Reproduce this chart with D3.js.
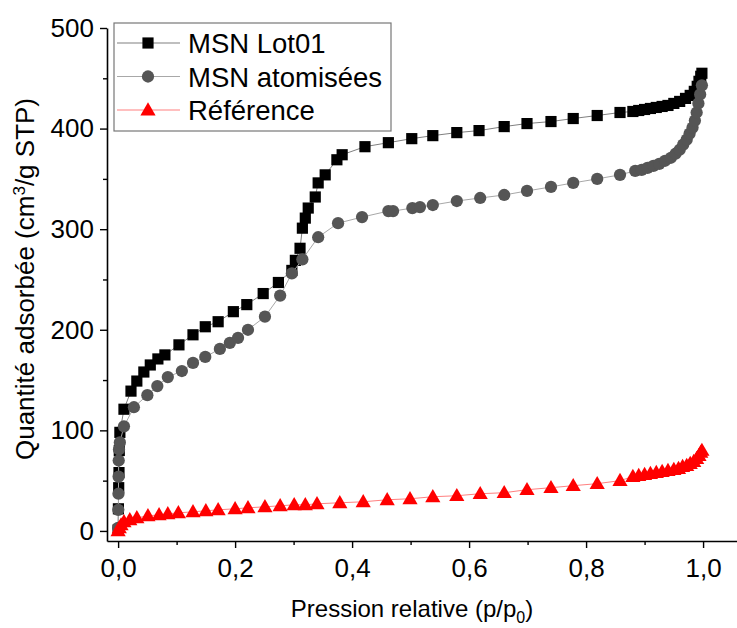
<!DOCTYPE html>
<html><head><meta charset="utf-8">
<script src="https://cdn.jsdelivr.net/npm/d3@7"></script>
<style>body{margin:0;background:#fff}svg{display:block}text{font-family:Arial,"Liberation Sans",sans-serif}</style>
</head><body>
<svg id="c" width="737" height="628"></svg>
<script>
const seriesNames = ["MSN Lot01", "MSN atomisées", "Référence"];
const lot01X = [0.000,0.0005,0.001,0.0015,0.002,0.003,0.010,0.022,0.032,0.044,0.055,0.068,0.080,0.104,0.128,0.149,0.171,0.197,0.220,0.248,0.274,0.297,0.303,0.311,0.315,0.320,0.325,0.337,0.342,0.354,0.374,0.383,0.422,0.462,0.502,0.538,0.579,0.617,0.660,0.699,0.740,0.778,0.819,0.858,0.880,0.890,0.900,0.910,0.920,0.930,0.940,0.950,0.960,0.970,0.978,0.985,0.990,0.993,0.996,0.998];
const lot01Y = [1,22,43,58,80,98,121,139,149,158,165,171,175,185,195,203,208,218,225,236,247,259,269,281,301,311,321,332,346,354,369,374,382,386,390,393,396,398,402,405,407,410,413,416,417,418,419,420,421,422,423,425,427,430,433,437,442,447,452,455];
const atomX = [0.000,0.0003,0.0006,0.0008,0.001,0.0015,0.003,0.010,0.027,0.050,0.067,0.085,0.109,0.128,0.149,0.174,0.191,0.205,0.222,0.251,0.277,0.297,0.315,0.342,0.376,0.417,0.462,0.470,0.503,0.516,0.538,0.579,0.619,0.660,0.699,0.740,0.778,0.819,0.858,0.884,0.895,0.905,0.915,0.925,0.935,0.945,0.953,0.960,0.966,0.972,0.977,0.982,0.986,0.989,0.992,0.995,0.998];
const atomY = [3,21,37,54,70,81,88,104,123,135,144,153,159,167,173,181,187,192,200,213,234,256,270,292,306,312,318,318,321,322,324,328,331,334,338,342,346,350,354,358,359,361,363,365,368,371,375,379,384,389,395,401,408,416,425,434,443];
const refX = [0.000,0.002,0.005,0.010,0.020,0.032,0.051,0.070,0.085,0.103,0.128,0.150,0.171,0.200,0.222,0.251,0.277,0.301,0.320,0.340,0.379,0.419,0.460,0.499,0.538,0.579,0.619,0.660,0.699,0.740,0.778,0.819,0.858,0.880,0.890,0.900,0.910,0.920,0.930,0.940,0.950,0.958,0.965,0.972,0.978,0.984,0.989,0.993,0.996,0.998];
const refY = [0,3,6,9,11,13,15,16,17,18,19,20,21,22,23,24,25,26,26,27,28,29,31,32,34,35,37,38,41,43,45,47,50,54,55,56,57,58,59,60,61,62,64,65,67,69,72,75,78,80];
const xMajorTicks = [0, 0.2, 0.4, 0.6, 0.8, 1.0];
const xMinorTicks = [0.1, 0.3, 0.5, 0.7, 0.9];
const yMajorTicks = [0, 100, 200, 300, 400, 500];
const yMinorTicks = [50, 150, 250, 350, 450];
const xTitle = "Pression relative (p/p";
const yTitle = "Quantité adsorbée (cm";

const svg = d3.select("#c");
const x = d3.scaleLinear().domain([-0.019, 1.058]).range([107, 737]);
const y = d3.scaleLinear().domain([-10, 500]).range([541, 28]);

const styles = [
  {fill:"#000000", line:"#808080", shape:d3.symbolSquare, size:125},
  {fill:"#555555", line:"#a8a8a8", shape:d3.symbolCircle, size:118},
  {fill:"#ff0000", line:"#ff8080", shape:d3.symbolTriangle, size:100}
];
const series = [
  lot01X.map((v,i)=>[v, lot01Y[i]]),
  atomX.map((v,i)=>[v, atomY[i]]),
  refX.map((v,i)=>[v, refY[i]])
];

// axes
const fmt = d => d3.format(".1f")(d).replace(".", ",");
const gx = svg.append("g").attr("transform","translate(0,541)");
gx.call(d3.axisBottom(x).tickValues(xMajorTicks).tickSize(7).tickSizeOuter(0).tickFormat(fmt));
gx.append("g").call(d3.axisBottom(x).tickValues(xMinorTicks).tickSize(4).tickSizeOuter(0).tickFormat(""))
  .select(".domain").remove();
const gy = svg.append("g").attr("transform","translate(107,0)");
gy.call(d3.axisLeft(y).tickValues(yMajorTicks).tickSize(7).tickSizeOuter(0));
gy.append("g").call(d3.axisLeft(y).tickValues(yMinorTicks).tickSize(4).tickSizeOuter(0).tickFormat(""))
  .select(".domain").remove();
svg.selectAll(".domain").attr("stroke","#000").attr("stroke-width",1.6);
svg.selectAll(".tick line").attr("stroke","#000").attr("stroke-width",1.4);
gx.selectAll(".tick text").attr("font-size",26).attr("fill","#000").attr("dy","1.0em")
  .attr("font-family","Arial, 'Liberation Sans', sans-serif");
gy.selectAll(".tick text").attr("font-size",26).attr("fill","#000").attr("dx","-0.12em")
  .attr("font-family","Arial, 'Liberation Sans', sans-serif");

// series
const line = d3.line().x(d=>x(d[0])).y(d=>y(d[1]));
series.forEach((s,i)=>{
  const st = styles[i];
  const g = svg.append("g");
  g.append("path").attr("d", line(s)).attr("fill","none").attr("stroke", st.line).attr("stroke-width",1);
  g.selectAll("path.m").data(s).enter().append("path").attr("class","m")
    .attr("d", d3.symbol().type(st.shape).size(st.size))
    .attr("transform", d=>`translate(${x(d[0])},${y(d[1]) + (i===2?1:0)})`)
    .attr("fill", st.fill);
});

// axis titles
const xt = svg.append("text").attr("x", 412).attr("y", 617).attr("text-anchor","middle")
  .attr("font-size",24).attr("fill","#000");
xt.append("tspan").text(xTitle);
xt.append("tspan").attr("font-size",16).attr("dy",6).text("0");
xt.append("tspan").attr("dy",-6).text(")");

const yt = svg.append("text").attr("transform","translate(34,279) rotate(-90)").attr("text-anchor","middle")
  .attr("font-size",26).attr("fill","#000");
yt.append("tspan").text(yTitle);
yt.append("tspan").attr("font-size",17).attr("dy",-9).text("3");
yt.append("tspan").attr("dy",9).text("/g STP)");

// legend
const lg = svg.append("g");
lg.append("rect").attr("x",114).attr("y",23).attr("width",277).attr("height",108)
  .attr("fill","#fff").attr("stroke","#777").attr("stroke-width",1.2);
seriesNames.forEach((name,i)=>{
  const st = styles[i];
  const ly = 43 + i*33.5;
  lg.append("line").attr("x1",117).attr("x2",180).attr("y1",ly).attr("y2",ly)
    .attr("stroke", st.line).attr("stroke-width",1.2);
  lg.append("path").attr("d", d3.symbol().type(st.shape).size(st.size))
    .attr("transform",`translate(148,${ly + (i===2?1:0)})`).attr("fill", st.fill);
  lg.append("text").attr("x",188).attr("y",ly+10).attr("font-size",27.5).attr("fill","#000").text(name);
});
</script>
</body></html>
